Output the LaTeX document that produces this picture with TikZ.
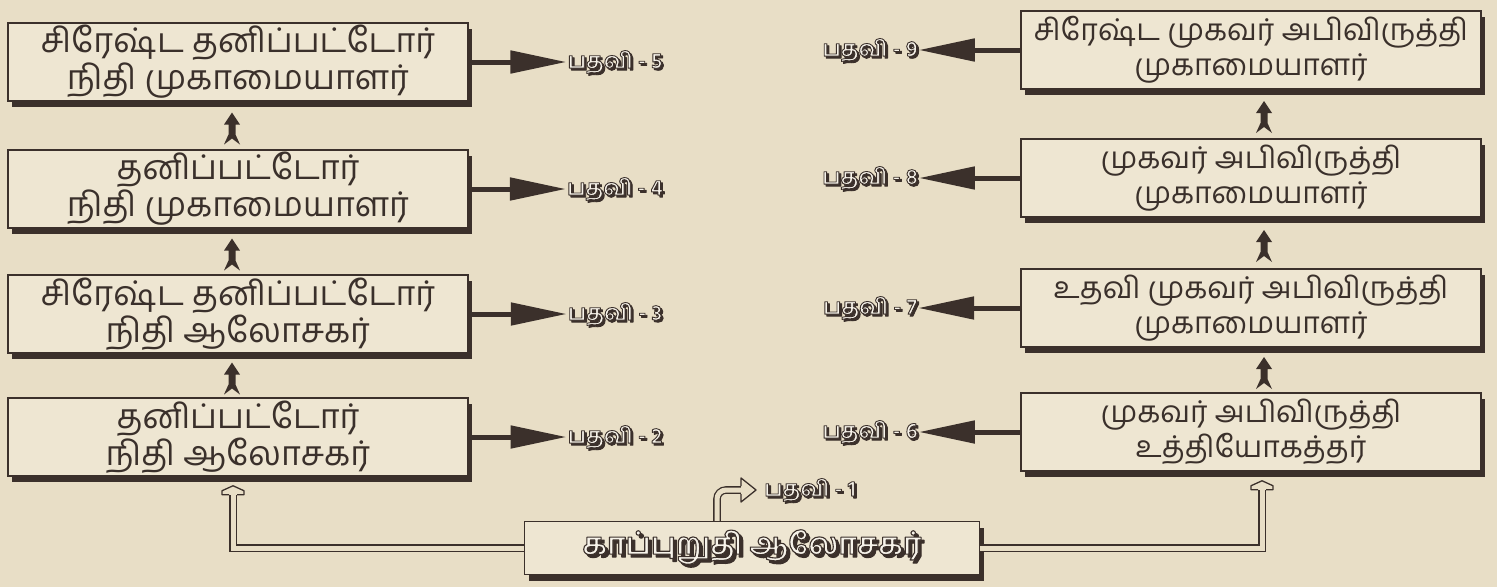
\documentclass[tikz,border=0pt]{standalone}
\usepackage{fontspec}
\newfontfamily\tamil[Script=Tamil]{Hind Madurai}
\usetikzlibrary{calc,shadows,arrows.meta}
\definecolor{paper}{HTML}{E8DEC6}
\definecolor{boxfill}{HTML}{EEE6D2}
\definecolor{ink}{HTML}{3B302B}
\definecolor{txt}{HTML}{3A302B}
\definecolor{light}{HTML}{F7F3EA}
% stroked (outlined) text via PDF text render mode 2
\newcommand\strk[2]{\special{pdf:literal direct q 0.231 0.188 0.169 RG #1 w 1 j 2 Tr}#2\special{pdf:literal direct Q}}
\tikzset{
  posbox/.style={draw=ink, line width=1.5pt, fill=boxfill, minimum width=460pt,
    minimum height=78pt, align=center, inner sep=0pt, text=txt,
    font=\tamil\fontsize{34}{37}\selectfont,
    drop shadow={shadow xshift=4pt, shadow yshift=-6pt, fill=ink, opacity=1}},
  posboxR/.style={posbox, font=\tamil\fontsize{30}{35}\selectfont},
  lblfont/.style={inner sep=1pt, font=\tamil\bfseries\fontsize{22}{24}\selectfont},
  bigfont/.style={inner sep=1pt, font=\tamil\bfseries\fontsize{30}{32}\selectfont},
  harrow/.style={draw=ink, line width=5pt, -{Triangle[length=56pt,width=22pt]}},
  dbl/.style={draw=ink, line width=1.3pt, double=paper, double distance=5pt},
  headfill/.style={fill=paper, draw=ink, line width=1.3pt, line join=round},
  uparrowfill/.style={fill=ink}
}
% outlined label: #1 style, #2 name, #3 position (x,y), #4 text, #5 shadow offset, #6 stroke
\newcommand\outlbl[6]{%
  \node[#1, text=ink] at ([shift={(#5,#5)}]#3) {\strk{#6}{#4}};
  \node[#1, text=light] (#2) at (#3) {\strk{#6}{#4}};
}
\newcommand\uparr[3]{% lower node, upper node, x shift
  \fill[uparrowfill] ($(#1.north)!0.5!(#2.south)+(#3,3)$)
    +(0,-16) -- +(8,-4) -- +(3.5,-4) -- +(3.5,6) -- +(8,16) -- +(0,10)
    -- +(-8,16) -- +(-3.5,6) -- +(-3.5,-4) -- +(-8,-4) -- cycle;
}
\begin{document}
\begin{tikzpicture}[x=1pt,y=-1pt]
\fill[paper] (0,0) rectangle (1497,587);
\useasboundingbox (0,0) rectangle (1497,587);

% left column
\node[posbox] (L5) at (238,62) {சிரேஷ்ட தனிப்பட்டோர்\\நிதி முகாமையாளர்};
\node[posbox] (L4) at (238,189) {தனிப்பட்டோர்\\நிதி முகாமையாளர்};
\node[posbox] (L3) at (238,314) {சிரேஷ்ட தனிப்பட்டோர்\\நிதி ஆலோசகர்};
\node[posbox] (L2) at (238,437) {தனிப்பட்டோர்\\நிதி ஆலோசகர்};

% right column
\node[posboxR] (R9) at (1251,50) {சிரேஷ்ட முகவர் அபிவிருத்தி\\முகாமையாளர்};
\node[posboxR] (R8) at (1251,178) {முகவர் அபிவிருத்தி\\முகாமையாளர்};
\node[posboxR] (R7) at (1251,308) {உதவி முகவர் அபிவிருத்தி\\முகாமையாளர்};
\node[posboxR] (R6) at (1251,432) {முகவர் அபிவிருத்தி\\உத்தியோகத்தர்};

% bottom box
\node[posbox, minimum width=455pt, minimum height=53pt] (B) at (752,548) {};
\outlbl{bigfont}{Bt}{752,547}{காப்புறுதி ஆலோசகர்}{3}{1.1}

% labels
\outlbl{lblfont}{p5}{615,62}{பதவி - 5}{2}{0.9}
\outlbl{lblfont}{p4}{615,189}{பதவி - 4}{2}{0.9}
\outlbl{lblfont}{p3}{615,314}{பதவி - 3}{2}{0.9}
\outlbl{lblfont}{p2}{615,437}{பதவி - 2}{2}{0.9}
\outlbl{lblfont}{p9}{870,50}{பதவி - 9}{2}{0.9}
\outlbl{lblfont}{p8}{870,178}{பதவி - 8}{2}{0.9}
\outlbl{lblfont}{p7}{870,308}{பதவி - 7}{2}{0.9}
\outlbl{lblfont}{p6}{870,432}{பதவி - 6}{2}{0.9}
\outlbl{lblfont}{p1}{810,490}{பதவி - 1}{2}{0.9}

% horizontal arrows
\draw[harrow] (L5.east) -- (p5.west);
\draw[harrow] (L4.east) -- (p4.west);
\draw[harrow] (L3.east) -- (p3.west);
\draw[harrow] (L2.east) -- (p2.west);
\draw[harrow] (R9.west) -- (p9.east);
\draw[harrow] (R8.west) -- (p8.east);
\draw[harrow] (R7.west) -- (p7.east);
\draw[harrow] (R6.west) -- (p6.east);

% up arrows
\uparr{L2}{L3}{-6}
\uparr{L3}{L4}{-6}
\uparr{L4}{L5}{-6}
\uparr{R6}{R7}{13}
\uparr{R7}{R8}{13}
\uparr{R8}{R9}{13}

% double connectors from bottom box
\draw[dbl] (B.west) -| ([shift={(-5,18)}]L2.south);
\filldraw[headfill] ([shift={(-5,9)}]L2.south)
  +(-4,9) -- +(-11,9) -- +(-11,5) -- +(0,0) -- +(11,5) -- +(11,9) -- +(4,9);
\draw[dbl] (B.east) -| ([shift={(11,18)}]R6.south);
\filldraw[headfill] ([shift={(11,9)}]R6.south)
  +(-4,9) -- +(-11,9) -- +(-11,5) -- +(0,0) -- +(11,5) -- +(11,9) -- +(4,9);

% bent arrow to post 1
\draw[dbl, rounded corners=9pt] ([xshift=-35pt]B.north) |- ([xshift=-22pt]p1.west);
\filldraw[headfill] ([xshift=-22pt]p1.west)
  +(0,-4) -- +(0,-12) -- +(15,0) -- +(0,12) -- +(0,4);
\end{tikzpicture}
\end{document}
